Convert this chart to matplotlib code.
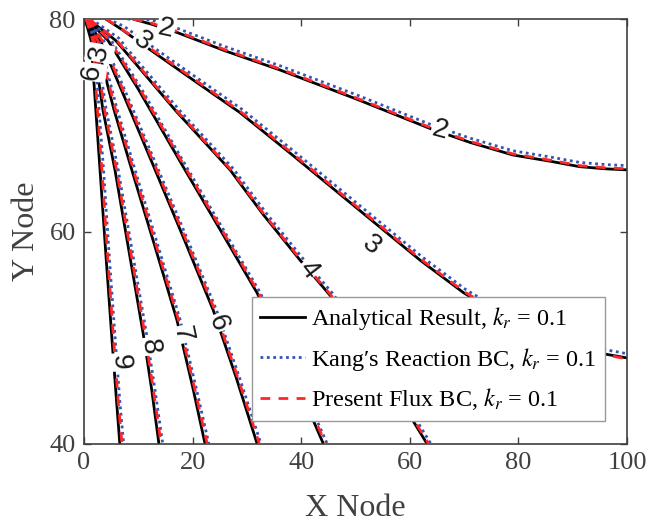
import numpy as np
import matplotlib
matplotlib.use('Agg')
import matplotlib.pyplot as plt
from matplotlib.lines import Line2D

plt.rcParams['font.family'] = ['Liberation Serif', 'DejaVu Serif']
plt.rcParams['mathtext.fontset'] = 'stix'

LEVELS = [2, 3, 4, 5, 6, 7, 8, 9]

# Analytical contour lines
ANA_X = {
    2: [9.0, 12.5, 17.3, 26.0, 36.1, 50.0, 63.7, 71.0, 79.0, 86.0, 91.3, 96.0, 100.0],
    3: [4.0, 7.0, 12.2, 20.0, 28.7, 37.9, 51.2, 61.9, 70.0, 80.0, 90.0, 100.0],
    4: [0.8, 5.8, 8.5, 17.0, 26.9, 33.0, 39.8, 45.3, 54.0, 63.2],
    5: [0.5, 4.4, 10.0, 18.6, 25.5, 31.9, 38.0, 44.1],
    6: [0.4, 3.0, 8.0, 13.1, 18.5, 23.8, 28.0, 31.9],
    7: [0.3, 2.2, 5.5, 8.8, 13.0, 17.1, 20.0, 22.3],
    8: [0.2, 1.6, 3.5, 5.7, 8.3, 10.9, 12.5, 13.8],
    9: [0.2, 1.3, 2.1, 2.95, 4.1, 5.3, 6.0, 6.6],
}
ANA_Y = {
    2: [80.0, 79.5, 78.7, 77.0, 75.2, 72.5, 69.7, 68.4, 67.2, 66.6, 66.1, 65.9, 65.8],
    3: [80.0, 79.0, 77.1, 74.3, 71.2, 67.4, 61.8, 57.3, 54.2, 51.2, 49.0, 48.1],
    4: [80.0, 78.0, 76.4, 71.3, 65.8, 61.6, 57.3, 54.0, 47.7, 40.0],
    5: [80.0, 78.0, 73.4, 65.8, 59.8, 54.2, 47.2, 40.0],
    6: [80.0, 78.0, 72.0, 65.8, 59.2, 52.6, 46.3, 40.0],
    7: [80.0, 78.0, 71.5, 65.8, 58.7, 51.7, 45.4, 40.0],
    8: [80.0, 78.0, 71.4, 65.8, 58.1, 50.4, 45.0, 40.0],
    9: [80.0, 78.0, 72.0, 65.8, 57.3, 48.8, 44.0, 40.0],
}

# Kang's reaction BC (blue dotted), sits a little outside the analytical line
KANG_X = {
    2: [8.0, 12.5, 17.3, 26.0, 36.1, 50.0, 63.7, 71.0, 79.0, 86.0, 91.3, 96.0, 100.0],
    3: [4.4, 7.4, 12.6, 20.4, 29.1, 38.3, 51.6, 62.3, 70.4, 80.4, 90.4, 100.0],
    4: [1.3, 6.4, 9.1, 17.6, 27.5, 33.6, 40.4, 45.9, 54.6, 63.9],
    5: [0.9, 5.0, 10.6, 19.2, 26.1, 32.5, 38.6, 44.8],
    6: [0.8, 3.6, 8.6, 13.7, 19.1, 24.4, 28.6, 32.6],
    7: [0.6, 2.8, 6.1, 9.4, 13.6, 17.7, 20.6, 23.0],
    8: [0.5, 2.2, 4.1, 6.3, 8.9, 11.5, 13.1, 14.5],
    9: [0.5, 1.9, 2.7, 3.6, 4.7, 5.9, 6.6, 7.3],
}
KANG_Y = {
    2: [80.0, 79.9, 79.1, 77.4, 75.6, 72.9, 70.1, 68.8, 67.6, 67.0, 66.5, 66.3, 66.2],
    3: [80.0, 79.3, 77.4, 74.6, 71.5, 67.7, 62.1, 57.6, 54.5, 51.5, 49.4, 48.5],
    4: [80.0, 78.2, 76.5, 71.4, 65.9, 61.7, 57.4, 54.1, 47.8, 40.0],
    5: ANA_Y[5], 6: ANA_Y[6], 7: ANA_Y[7], 8: ANA_Y[8], 9: ANA_Y[9],
}

# Present flux BC (red dashed), almost on top of the analytical line
FLUX_X = {
    2: ANA_X[2],
    3: [4.1, 7.1, 12.3, 20.1, 28.8, 38.0, 51.3, 62.0, 70.1, 80.1, 90.1, 100.0],
    4: [0.9, 6.0, 8.7, 17.2, 27.1, 33.2, 40.0, 45.5, 54.2, 63.5],
    5: [0.7, 4.7, 10.3, 18.9, 25.8, 32.2, 38.3, 44.5],
    6: [0.6, 3.3, 8.3, 13.4, 18.8, 24.1, 28.3, 32.3],
    7: [0.5, 2.5, 5.8, 9.1, 13.3, 17.4, 20.3, 22.7],
    8: [0.4, 1.9, 3.8, 6.0, 8.6, 11.2, 12.8, 14.2],
    9: [0.4, 1.6, 2.4, 3.3, 4.4, 5.6, 6.3, 7.0],
}
FLUX_Y = {
    2: [80.0, 79.6, 78.8, 77.1, 75.3, 72.6, 69.8, 68.5, 67.3, 66.7, 66.2, 66.0, 65.9],
    3: [80.0, 79.0, 77.2, 74.4, 71.3, 67.5, 61.9, 57.4, 54.3, 51.3, 49.0, 48.0],
    4: ANA_Y[4], 5: ANA_Y[5], 6: ANA_Y[6], 7: ANA_Y[7], 8: ANA_Y[8], 9: ANA_Y[9],
}

# inline contour labels
LAB_TEXT = ['2', '3', '4', '6', '7', '8', '9', '2', '3', '6', '3']
LAB_X = [65.6, 53.0, 41.3, 24.7, 18.0, 12.2, 6.6, 15.1, 10.7, 1.5, 2.9]
LAB_Y = [69.5, 58.7, 56.4, 51.4, 50.3, 49.2, 47.7, 79.1, 77.9, 75.0, 76.8]
LAB_ROT = [-15, -38, -52, -71, -78, -82, -86, -12, -38, 82, 80]

LEGEND_LABELS = [r'Analytical Result, $k_r$ = 0.1',
                 'Kang\u2032s Reaction BC, $k_r$ = 0.1',
                 r'Present Flux BC, $k_r$ = 0.1']

BLACK = 'k'
BLUE = '#3454b4'
RED = '#ff2626'
GREY = '#404040'

fig = plt.figure(figsize=(6.48, 5.22), dpi=100)
ax = fig.add_axes([84 / 648, 78 / 522, 543 / 648, 425 / 522])

for lv in LEVELS:
    ax.plot(ANA_X[lv], ANA_Y[lv], color=BLACK, lw=2.0, zorder=2,
            solid_capstyle='butt')
    ax.plot(KANG_X[lv], KANG_Y[lv], color=BLUE, lw=2.0, ls=(0, (1, 1.3)),
            zorder=3)
    ax.plot(FLUX_X[lv], FLUX_Y[lv], color=RED, lw=2.0, ls=(0, (3.5, 3)),
            zorder=4)

for t, x, y, r in zip(LAB_TEXT, LAB_X, LAB_Y, LAB_ROT):
    ax.text(x, y, t, rotation=r, ha='center', va='center', fontsize=20,
            family=['Liberation Sans', 'DejaVu Sans'], color='#1a1a1a',
            rotation_mode='anchor', zorder=6, clip_on=False,
            bbox=dict(facecolor='white', edgecolor='none', pad=1.0))

ax.set_xlim(0, 100)
ax.set_ylim(40, 80)
ax.set_xticks([0, 20, 40, 60, 80, 100])
ax.set_yticks([40, 60, 80])
ax.tick_params(direction='in', top=True, right=True, length=5, width=1,
               labelsize=19, colors=GREY, pad=6)
for sp in ax.spines.values():
    sp.set_color(GREY)
    sp.set_linewidth(1.2)
ax.set_xlabel('X Node', fontsize=23, color=GREY, labelpad=14)
ax.set_ylabel('Y Node', fontsize=23, color=GREY, labelpad=6)

handles = [Line2D([], [], color=BLACK, lw=2.0),
           Line2D([], [], color=BLUE, lw=2.0, ls=(0, (1, 1.3))),
           Line2D([], [], color=RED, lw=2.0, ls=(0, (3.5, 3)))]
leg = ax.legend(handles, LEGEND_LABELS, loc='upper left',
                bbox_to_anchor=(0.309, 0.346), borderaxespad=0,
                fontsize=17.5, handlelength=1.85, handletextpad=0.25,
                labelspacing=0.55, borderpad=0.35, fancybox=False,
                framealpha=1, edgecolor='#999999')
leg.get_frame().set_linewidth(1.0)
leg.set_zorder(10)

fig.savefig('out.png', dpi=100)
